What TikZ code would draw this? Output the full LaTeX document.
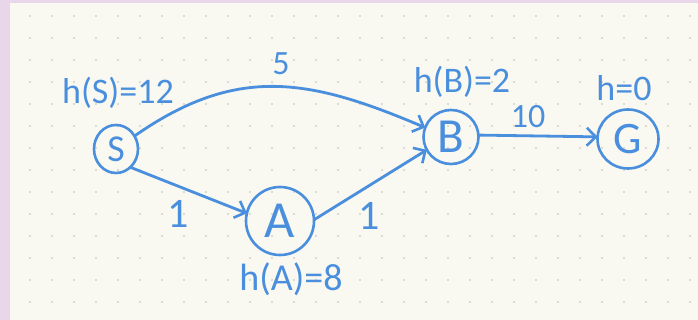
\documentclass[tikz,border=0pt]{standalone}
\usepackage{fontspec}
\setmainfont{Carlito}
\usetikzlibrary{arrows.meta,shapes.geometric}
\definecolor{ink}{HTML}{4A8FDD}
\definecolor{paper}{HTML}{FAF9F1}
\definecolor{frame}{HTML}{E9D6EA}
\definecolor{dotc}{HTML}{D2D2CA}
\tikzset{
  state/.style={draw=ink, line width=2.6pt, ellipse, inner sep=0pt, outer sep=0pt, text=ink},
  edge/.style={draw=ink, line width=2.8pt, line cap=round,
    -{Straight Barb[length=9pt,width=18pt,line width=2.6pt]}},
  hlab/.style={text=ink, inner sep=0pt, font=\fontsize{36}{40}\selectfont},
  wlab/.style={text=ink, inner sep=0pt, font=\fontsize{34}{38}\selectfont},
}
\begin{document}
\begin{tikzpicture}[x=1pt,y=1pt]
  % page frame and dotted paper
  \fill[frame] (0,0) rectangle (698,320);
  \fill[paper] (10,0) rectangle (698,317);
  \useasboundingbox (0,0) rectangle (698,320);
  \foreach \i in {0,...,30}
    \foreach \j in {0,...,13}
      \fill[dotc] (30+22*\i, 304-22*\j) circle (1.15);

  % states
  \node[state, minimum width=44pt, minimum height=48pt,
        font=\fontsize{38}{40}\selectfont] (S) at (116,171) {S};
  \node[state, minimum width=68pt, minimum height=68pt,
        font=\fontsize{52}{54}\selectfont] (A) at (280,99) {A};
  \node[state, minimum width=55pt, minimum height=54pt,
        font=\fontsize{49}{51}\selectfont] (B) at (451,183) {B};
  \node[state, minimum width=61pt, minimum height=59pt,
        font=\fontsize{45}{47}\selectfont] (G) at (628,181) {G};

  % heuristic values
  \node[hlab] (hS) at (118,227) {h(S)=12};
  \node[hlab, font=\fontsize{38}{42}\selectfont] (hA) at (291,41) {h(A)=8};
  \node[hlab] (hB) at (462,238) {h(B)=2};
  \node[hlab] (hG) at (624,232) {h=0};

  % transitions
  \draw[edge] (S.35) to[out=35, in=157, looseness=1.1] (B.160);
  \draw[edge] (S.-52) -- (A.167);
  \draw[edge] (A.2) -- (B.208);
  \draw[edge] (B.4) -- (G.176);

  % costs
  \node[wlab] (c5) at (281,256) {5};
  \node[wlab, font=\fontsize{42}{46}\selectfont] (c1a) at (178,106) {1};
  \node[wlab, font=\fontsize{42}{46}\selectfont] (c1b) at (369,104) {1};
  \node[wlab] (c10) at (528,203) {10};
\end{tikzpicture}
\end{document}
